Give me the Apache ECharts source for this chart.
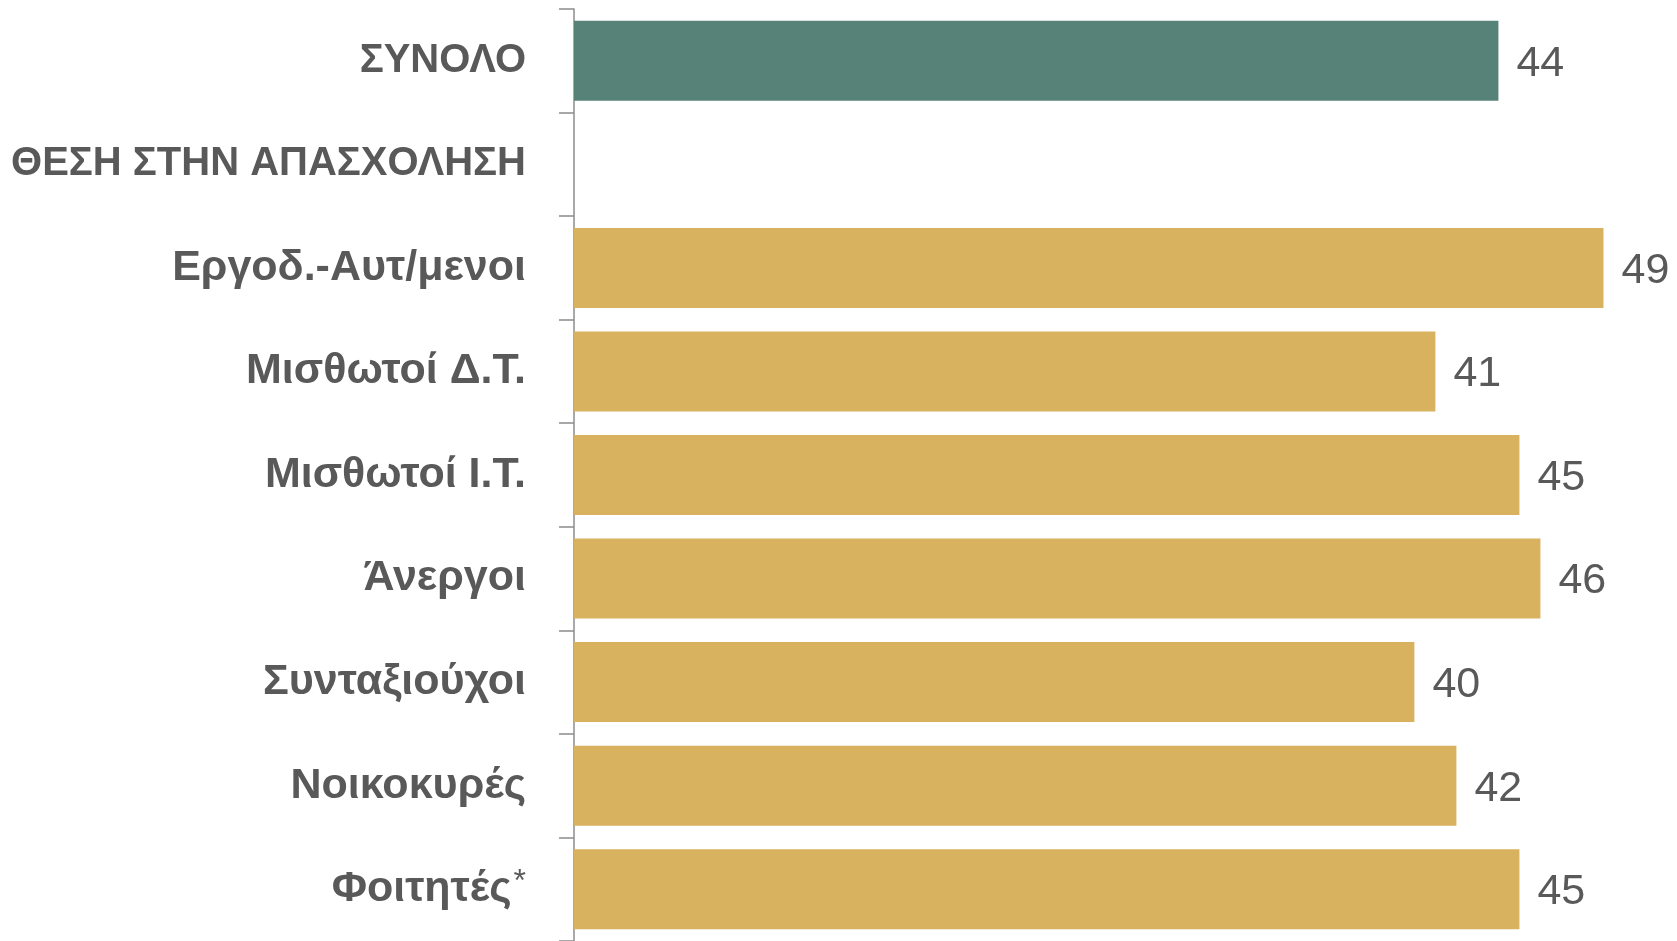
<!DOCTYPE html>
<html>
<head>
<meta charset="utf-8">
<script src="https://cdn.jsdelivr.net/npm/echarts@6/dist/echarts.min.js"></script>
<style>
  html, body { margin: 0; padding: 0; background: #fff; }
  #chart { width: 1677px; height: 941px; }
</style>
</head>
<body>
<div id="chart"></div>
<script>
const categories = [
    "ΣΥΝΟΛΟ",
    "ΘΕΣΗ ΣΤΗΝ ΑΠΑΣΧΟΛΗΣΗ",
    "Εργοδ.-Αυτ/μενοι",
    "Μισθωτοί Δ.Τ.",
    "Μισθωτοί Ι.Τ.",
    "Άνεργοι",
    "Συνταξιούχοι",
    "Νοικοκυρές",
    "Φοιτητές*"
];
const values = [44, null, 49, 41, 45, 46, 40, 42, 45];

const totalColor = "#578278";
const groupColor = "#D8B25E";
const textColor = "#595959";

const chart = echarts.init(document.getElementById("chart"));

chart.setOption({
    animation: false,
    grid: { left: 574, right: 0, top: 9, height: 937 },
    xAxis: {
        type: "value",
        min: 0,
        max: 52.5,
        show: false
    },
    yAxis: {
        type: "category",
        inverse: true,
        data: categories,
        axisLine: { show: true, lineStyle: { color: "#8c8c8c", width: 1.5 } },
        axisTick: { show: true, interval: 0, length: 15, lineStyle: { color: "#8c8c8c", width: 1.5 } },
        axisLabel: {
            margin: 48,
            color: textColor,
            formatter: function (v) {
                // all-caps labels get a slightly smaller style
                if (v === v.toUpperCase()) {
                    return "{c|" + v + "}";
                }
                if (v.endsWith("*")) {
                    return "{b|" + v.slice(0, -1) + "}{s|*}";
                }
                return "{b|" + v + "}";
            },
            rich: {
                c: { color: textColor, fontFamily: "Liberation Sans", fontWeight: "bold", fontSize: 40 },
                b: { color: textColor, fontFamily: "Liberation Sans", fontWeight: "bold", fontSize: 43 },
                s: { color: textColor, fontFamily: "Liberation Sans", fontSize: 32, verticalAlign: "top", padding: [0, 0, 14, 2] }
            }
        }
    },
    series: [{
        type: "bar",
        data: values,
        barWidth: 80,
        itemStyle: {
            color: function (p) { return p.dataIndex === 0 ? totalColor : groupColor; }
        },
        label: {
            show: true,
            position: "right",
            distance: 18,
            offset: [0, 3],
            color: textColor,
            fontFamily: "Liberation Sans Narrow, Liberation Sans, sans-serif",
            fontSize: 43
        }
    }]
});
</script>
</body>
</html>
